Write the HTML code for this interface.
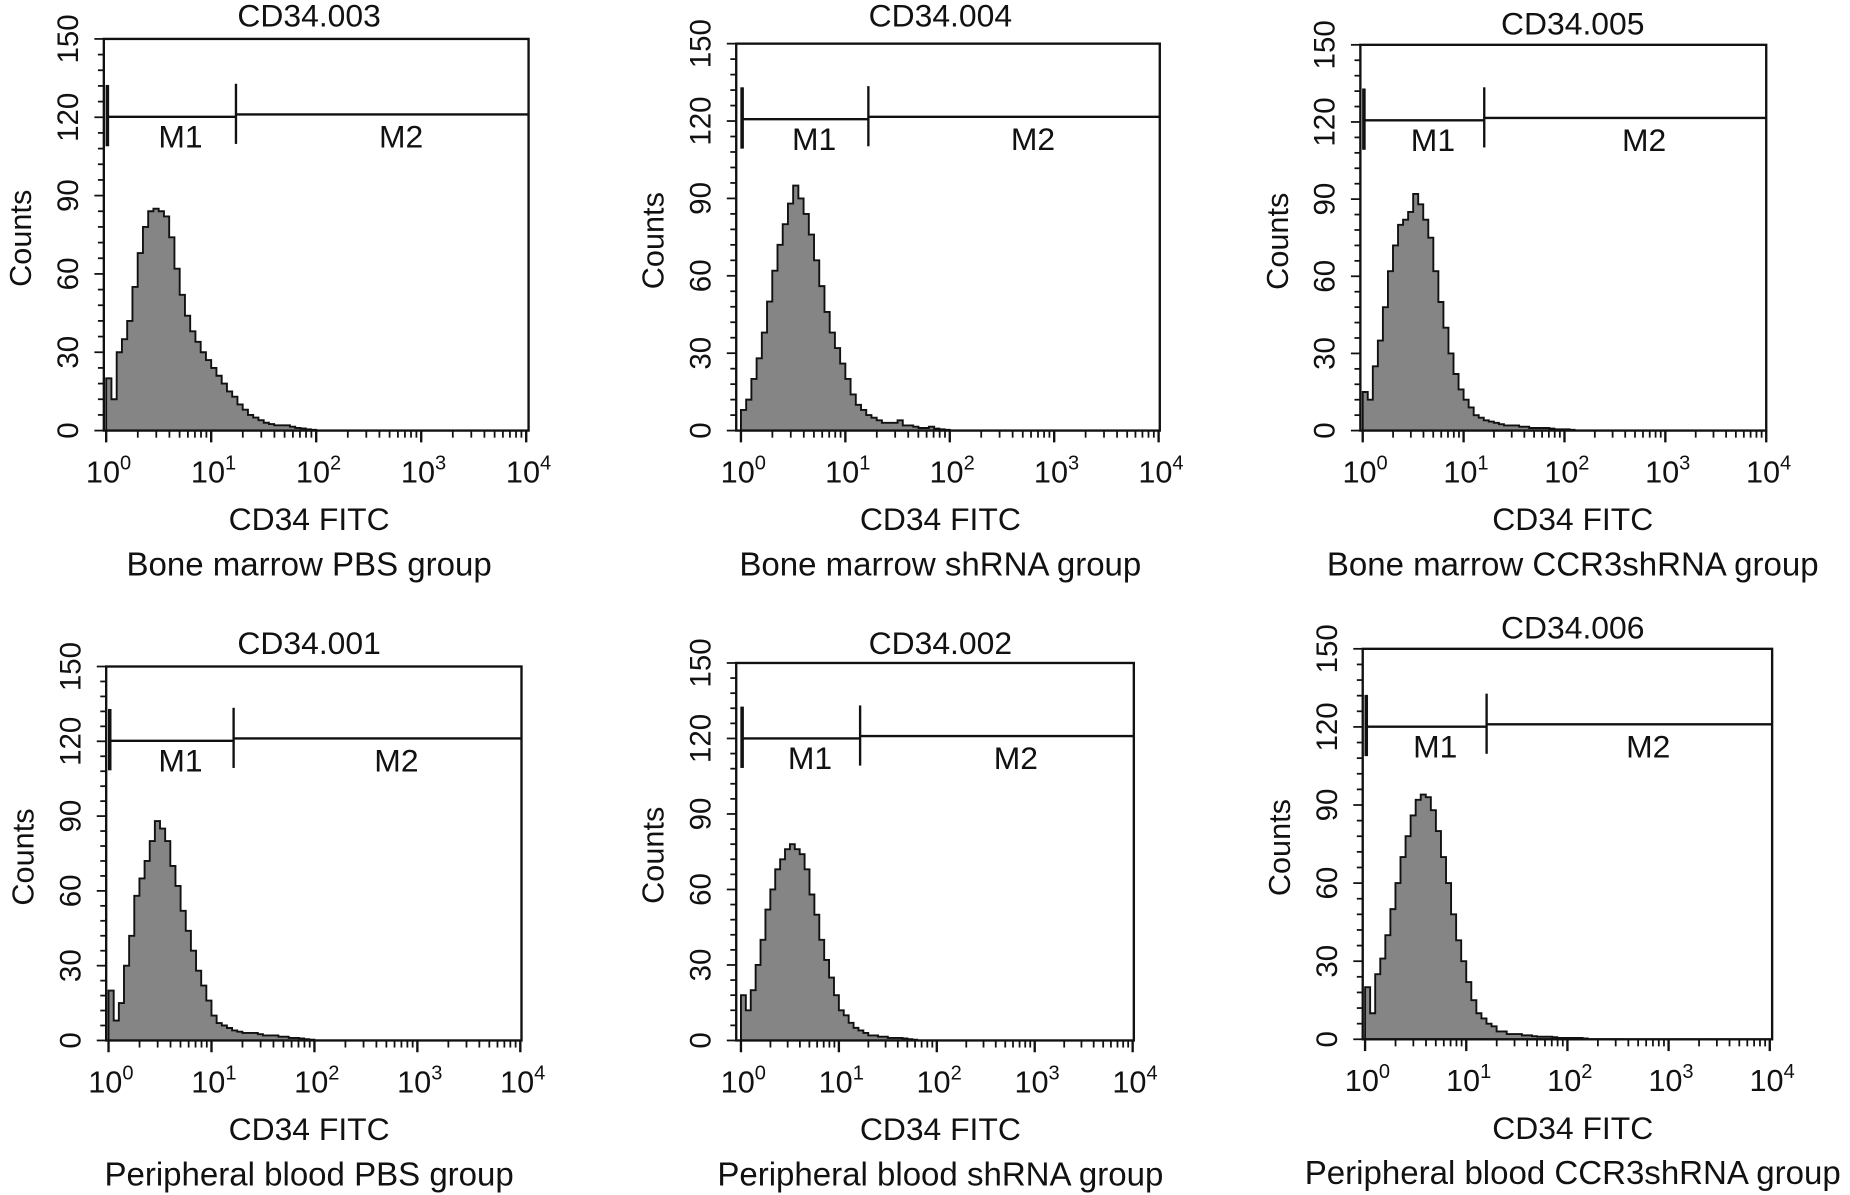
<!DOCTYPE html>
<html><head><meta charset="utf-8">
<style>
html,body{margin:0;padding:0;background:#fff;}
svg{display:block;}
text{font-family:"Liberation Sans",Arial,sans-serif;fill:#111;}
</style></head>
<body>
<svg id="fig" width="1850" height="1195" viewBox="0 0 1568 1013" preserveAspectRatio="none" xmlns="http://www.w3.org/2000/svg"></svg>
<script>
// ---- data ----
const logBins = [0,0.05,0.1,0.15,0.2,0.25,0.3,0.35,0.4,0.45,0.5,0.55,0.6,0.65,0.7,0.75,0.8,0.85,0.9,0.95,1.0,1.05,1.1,1.15,1.2,1.25,1.3,1.35,1.4,1.45,1.5,1.55,1.6,1.65,1.7,1.75,1.8,1.85,1.9,1.95,2.0,2.05,2.1,2.15,2.2,2.25,2.3,2.35,2.4,2.45,2.5];
const countsP1 = [20,12,30,35,42,55,68,78,84,85,84,82,74,62,52,44,38,34,30,27,24,21,18,15,13,10,8,6,5,4,3,2.5,2,2,2,1.5,1,0.8,0.5,0.3,0,0,0,0,0,0,0,0,0,0,0];
const countsP2 = [8,12,20,28,38,50,62,72,80,88,95,90,84,76,66,56,46,38,32,26,20,14,10,8,6,5,4,3,3,3,4,2,2,1.5,1,1,1.5,0.8,0.5,0.3,0,0,0,0,0,0,0,0,0,0,0];
const countsP3 = [15,12,25,35,48,62,72,80,82,85,92,88,82,75,62,50,40,30,22,16,12,9,6,5,4,3.5,3,2.5,2,2,2,1.5,1.5,1,1,1,1,0.8,0.5,0.5,0.5,0.3,0,0,0,0,0,0,0,0,0];
const countsP4 = [20,8,15,30,42,58,65,72,80,88,85,80,70,62,52,44,36,28,22,16,10,7,6,5,4,3.5,3,3,3,2.5,2,2,2,1.5,1.5,1,1,0.8,0.5,0.3,0,0,0,0,0,0,0,0,0,0,0];
const countsP5 = [18,12,20,30,40,52,60,68,72,76,78,76,74,68,58,50,40,32,25,18,12,10,7,5,4,3,2,2,1.5,1.5,1,1,1,0.8,0.5,0.3,0,0,0,0,0,0,0,0,0,0,0];
const countsP6 = [20,10,25,31,40,50,60,70,78,86,92,94,93,88,80,70,60,48,38,30,22,15,10,8,6,5,3,3,2,2,2,1.5,1.5,1.2,1,1,1,0.8,0.5,0.5,0.5,0.5,0.5,0.3,0,0,0,0,0,0,0];
const yTickValues = [0,30,60,90,120,150];
const xDecades = [0,1,2,3,4];
const titles = ["CD34.003","CD34.004","CD34.005","CD34.001","CD34.002","CD34.006"];
const groupLabels = ["Bone marrow PBS group","Bone marrow shRNA group","Bone marrow CCR3shRNA group","Peripheral blood PBS group","Peripheral blood shRNA group","Peripheral blood CCR3shRNA group"];
const allCounts = [countsP1,countsP2,countsP3,countsP4,countsP5,countsP6];

// ---- layout (not data) ----
const layouts = [
 {L:88,R:448,T:33,B:365,x0:90,x4:446,cx:262,ty:13,my:98,dx:200},
 {L:624,R:983,T:37,B:365,x0:628,x4:982,cx:797,ty:13,my:100,dx:736},
 {L:1153,R:1497,T:38,B:365,x0:1155,x4:1497,cx:1333,ty:20,my:101,dx:1258},
 {L:90,R:442,T:565,B:882,x0:92,x4:441,cx:262,ty:545,my:627,dx:198},
 {L:624,R:961,T:562,B:882,x0:628,x4:960,cx:797,ty:545,my:625,dx:729},
 {L:1155,R:1502,T:550,B:881,x0:1157,x4:1500,cx:1333,ty:532,my:615,dx:1260}
];
const NS="http://www.w3.org/2000/svg";
const svg=document.getElementById('fig');
function mk(tag,attrs,parent){const e=document.createElementNS(NS,tag);for(const k in attrs)e.setAttribute(k,attrs[k]);(parent||svg).appendChild(e);return e;}

layouts.forEach((p,i)=>{
  const g=mk('g',{});
  
  
  const xs=v=>p.x0+(p.x4-p.x0)*v/4;
  const ys=v=>p.B-(p.B-p.T)*v/150;
  const c=allCounts[i];
  let d='M'+xs(logBins[0])+','+p.B;
  for(let k=0;k<logBins.length;k++){
    const xa=xs(logBins[k]), xb=xs(k+1<logBins.length?logBins[k+1]:logBins[k]+0.05);
    d+=' L'+xa+','+ys(c[k])+' L'+xb+','+ys(c[k]);
  }
  d+=' L'+xs(logBins[logBins.length-1]+0.05)+','+p.B+' Z';
  const h=mk('path',{d:d,fill:'#858585',stroke:'#111','stroke-width':1.6,'stroke-linejoin':'miter'},g);
  
  
  const f=mk('rect',{x:p.L,y:p.T,width:p.R-p.L,height:p.B-p.T,fill:'none',stroke:'#111','stroke-width':2},g);
  
  
  for(let v=0;v<=150;v+=6){
    const major=v%30===0;
    mk('line',{x1:p.L-(major?8:5),x2:p.L,y1:ys(v),y2:ys(v),stroke:'#111','stroke-width':1.5},g);
  }
  yTickValues.forEach(v=>{
    const t=mk('text',{x:p.L-30,y:ys(v),'font-size':25,'text-anchor':'middle','dominant-baseline':'central',transform:'rotate(-90 '+(p.L-30)+' '+ys(v)+')'},g);
    t.textContent=v;
    
    
  });
  xDecades.forEach(dd=>{
    mk('line',{x1:xs(dd),x2:xs(dd),y1:p.B,y2:p.B+10,stroke:'#111','stroke-width':2},g);
    if(dd<4){for(let m=2;m<=9;m++){const xm=xs(dd+Math.log10(m));mk('line',{x1:xm,x2:xm,y1:p.B,y2:p.B+6,stroke:'#111','stroke-width':1.5},g);}}
    const t=mk('text',{x:xs(dd)+2,y:p.B+44,'font-size':26,'text-anchor':'middle'},g);
    
    
    const s1=mk('tspan',{},t);s1.textContent='10';
    const s2=mk('tspan',{'font-size':17,dy:-11},t);s2.textContent=String(dd);
  });
  mk('line',{x1:xs(0)+2,x2:p.dx,y1:p.my+1,y2:p.my+1,stroke:'#111','stroke-width':2},g);
  mk('line',{x1:p.dx,x2:p.R,y1:p.my-1,y2:p.my-1,stroke:'#111','stroke-width':2},g);
  mk('line',{x1:xs(0)+1,x2:xs(0)+1,y1:p.my-26,y2:p.my+26,stroke:'#111','stroke-width':3},g);
  mk('line',{x1:p.dx,x2:p.dx,y1:p.my-27,y2:p.my+24,stroke:'#111','stroke-width':2},g);
  const m1=mk('text',{x:(xs(0)+p.dx)/2+8,y:p.my+27,'font-size':27,'text-anchor':'middle'},g);m1.textContent='M1';
  
  
  const m2=mk('text',{x:(p.dx+p.R)/2+16,y:p.my+27,'font-size':27,'text-anchor':'middle'},g);m2.textContent='M2';
  
  
  const tt=mk('text',{x:p.cx,y:p.ty,'font-size':27,'text-anchor':'middle','dominant-baseline':'central'},g);tt.textContent=titles[i];
  
  
  const cy=(p.T+p.B)/2+3;
  const yl=mk('text',{x:p.L-70,y:cy,'font-size':26,'text-anchor':'middle','dominant-baseline':'central',transform:'rotate(-90 '+(p.L-70)+' '+cy+')'},g);yl.textContent='Counts';
  
  
  const xl=mk('text',{x:p.cx,y:p.B+75,'font-size':27,'text-anchor':'middle','dominant-baseline':'central'},g);xl.textContent='CD34 FITC';
  
  
  const gl=mk('text',{x:p.cx,y:p.B+113,'font-size':28,'text-anchor':'middle','dominant-baseline':'central'},g);gl.textContent=groupLabels[i];
  
  
});
</script>
</body></html>
